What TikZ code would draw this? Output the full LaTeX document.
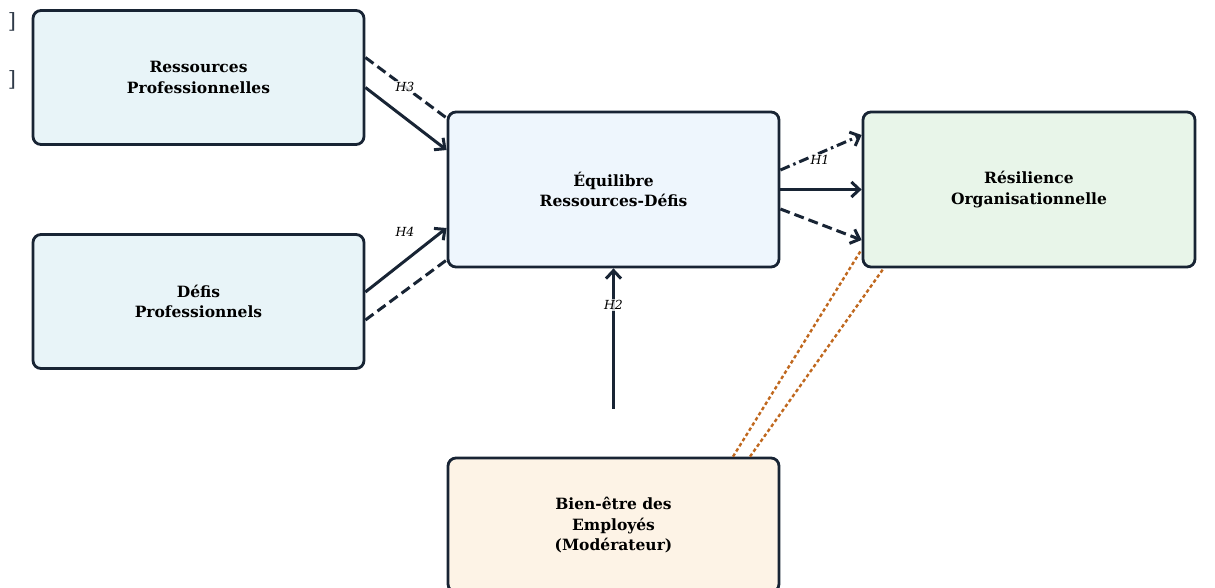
\documentclass[tikz,border=0pt]{standalone}
\usepackage{fontspec}
\setmainfont{DejaVu Serif}
\usetikzlibrary{arrows.meta}
\definecolor{boxline}{RGB}{24,36,52}
\definecolor{ressfill}{RGB}{232,244,248}
\definecolor{equfill}{RGB}{238,246,253}
\definecolor{resifill}{RGB}{232,245,233}
\definecolor{bienfill}{RGB}{253,243,230}
\definecolor{modline}{RGB}{192,104,30}

\begin{document}
\begin{tikzpicture}[x=1pt, y=-1pt,
    >={Straight Barb[length=8pt,width=15pt]},   % offene Pfeilspitzen
    box/.style={draw=boxline, line width=2.8pt, rounded corners=8pt, minimum width=331pt,
      align=center, font=\fontsize{15.5}{20.5}\selectfont\bfseries},
    link/.style={draw=boxline, line width=3pt},
    hyp/.style={font=\fontsize{12.5}{14}\selectfont\itshape, fill=white, fill opacity=0.8,
      text opacity=1, inner sep=1pt},
    modlink/.style={draw=modline, line width=2.4pt, dash pattern=on 3.5pt off 2.6pt}]
    % Bildbereich
    \useasboundingbox (0,0) rectangle (1215,587);
    % Kaesten
    \node[box, fill=ressfill, minimum height=134pt] (ress) at (198.5,77.5) {Ressources\\Professionnelles};
    \node[box, fill=ressfill, minimum height=134pt] (defis) at (198.5,301.5) {Défis\\Professionnels};
    \node[box, fill=equfill, minimum height=155pt] (equ) at (613.5,189.5) {Équilibre\\Ressources-Défis};
    \node[box, fill=resifill, minimum height=155pt, minimum width=332pt] (resi) at (1029,189.5) {Résilience\\Organisationnelle};
    \node[box, fill=bienfill, minimum height=134pt] (bien) at (613.5,525) {Bien-être des\\Employés\\(Modérateur)};
    % Randzeichen
    \foreach \y [count=\i] in {22,80}
      \node[text=boxline!90, font=\fontsize{21}{22}\selectfont] (brk\i) at (12,\y) {]};
    % H3
    \draw[link, dash pattern=on 10pt off 5pt] ([yshift=20pt]ress.east) -- ([yshift=71.5pt]equ.west);
    \draw[link, ->] ([yshift=-10pt]ress.east) -- ([yshift=39.5pt]equ.west);
    \node[hyp] (h3) at (405,87) {H3};
    % H4
    \draw[link, ->] ([yshift=9.5pt]defis.east) -- ([yshift=-38.5pt]equ.west);
    \draw[link, dash pattern=on 10pt off 5pt] ([yshift=-18.5pt]defis.east) -- ([yshift=-70.5pt]equ.west);
    \node[hyp] (h4) at (405,232) {H4};
    % H1
    \draw[link, ->, dash pattern=on 10pt off 4pt on 2.5pt off 4pt] ([yshift=19.5pt]equ.east) -- ([yshift=54.5pt]resi.west);
    \draw[link, ->] (equ.east) -- (resi.west);
    \draw[link, ->, dash pattern=on 10pt off 5pt] ([yshift=-19.5pt]equ.east) -- ([yshift=-50.5pt]resi.west);
    \node[hyp] (h1) at (820,160) {H1};
    % H2
    \draw[link, ->] ([yshift=48pt]bien.north) -- (equ.south);
    \node[hyp] (h2) at (613.5,305) {H2};
    % Moderation
    \draw[modlink] ([xshift=119.5pt]bien.north) -- ([yshift=19pt]resi.south west);
    \draw[modlink] ([xshift=136.5pt]bien.north) -- ([xshift=22pt]resi.south west);
\end{tikzpicture}
\end{document}
